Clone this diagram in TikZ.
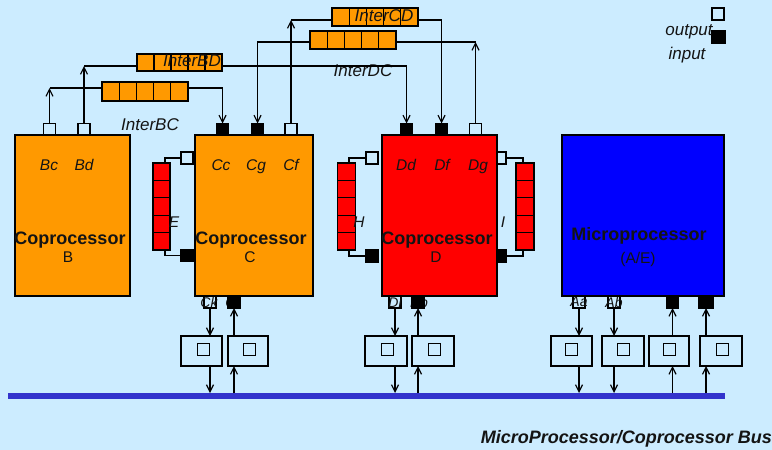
\documentclass[tikz,border=0pt]{standalone}
\usepackage{fontspec}
\setmainfont{Liberation Sans}
\usetikzlibrary{arrows.meta}
\definecolor{bg}{RGB}{204,236,255}
\definecolor{orng}{RGB}{255,153,0}
\definecolor{busblue}{RGB}{51,51,204}
\definecolor{txt}{RGB}{20,20,20}
\begin{document}
\begin{tikzpicture}[x=1pt,y=-1pt,
  every node/.style={inner sep=0pt, outer sep=0pt, text=txt},
  unitbox/.style={draw=black, line width=1.5pt, minimum width=#1},
  portout/.style={draw=black, fill=bg, line width=1.3pt, minimum width=12pt, minimum height=12pt},
  portin/.style={draw=black, fill=black, line width=1.3pt, minimum width=12pt, minimum height=12pt},
  qcell/.style={draw=black, line width=1.3pt},
  ifbox/.style={draw=black, fill=bg, line width=1.4pt, minimum height=30pt},
  ifsq/.style={draw=black, fill=bg, line width=1.4pt, minimum width=12pt, minimum height=12pt},
  ln/.style={draw=black, line width=1.4pt},
  arr/.style={ln, -{Straight Barb[length=7pt,width=7pt,line width=1.2pt]}},
  plab/.style={font=\fontsize{15.5}{15.5}\selectfont\itshape},
  tlab/.style={font=\fontsize{15.5}{15.5}\selectfont\itshape, anchor=base},
  ilab/.style={font=\fontsize{17}{17}\selectfont\itshape},
  slab/.style={font=\fontsize{14}{14}\selectfont\itshape},
  blab/.style={font=\fontsize{18}{18}\selectfont\bfseries},
  rlab/.style={font=\fontsize{15.5}{15.5}\selectfont}
]
\useasboundingbox (0,0) rectangle (772,450);
\fill[bg] (0,0) rectangle (772,450);

% ---- top ports
\node[portout] (pBc) at (49.5,129.5) {};
\node[portout] (pBd) at (84,129.5) {};
\node[portin]  (pCc) at (222.5,129.5) {};
\node[portin]  (pCg) at (257.5,129.5) {};
\node[portout] (pCf) at (291,129.5) {};
\node[portin]  (pDd) at (406.5,129.5) {};
\node[portin]  (pDf) at (441.5,129.5) {};
\node[portout] (pDg) at (475.5,129.5) {};

% ---- side ports
\node[portout] (pEo) at (187,158) {};
\node[portin]  (pEi) at (187,255.5) {};
\node[portout] (pHo) at (372,158) {};
\node[portin]  (pHi) at (372,256) {};
\node[portout] (pIo) at (500,158) {};
\node[portin]  (pIi) at (500,256) {};

% ---- bottom port labels (partly hidden)
\node[slab] (lCl) at (232,302) {Cl};
\node[slab] (lDb) at (419,302) {Db};

% ---- bottom ports
\node[portout] (pCk) at (210,302) {};
\node[portin, minimum width=13pt] (pCl) at (234,302) {};
\node[portout] (pDl) at (395,302) {};
\node[portin, minimum width=13pt] (pDb) at (418,302) {};
\node[portout] (pAa) at (579,302) {};
\node[portout] (pAb) at (614,302) {};
\node[portin] (pAc) at (672.5,302) {};
\node[portin, minimum width=14pt] (pAd) at (706,302) {};
\node[slab] (lCk) at (209,302) {Ck};
\node[slab] (lDl) at (395,302) {Dl};
\node[slab] (lAa) at (579,302) {Aa};
\node[slab] (lAb) at (614,302) {Ab};

% ---- main boxes
\node[unitbox=115pt, fill=orng, minimum height=161pt] (B) at (72.5,215.5) {};
\node[unitbox=118pt, fill=orng, minimum height=161pt] (C) at (254,215.5) {};
\node[unitbox=115pt, fill=red, minimum height=161pt] (D) at (439.5,215.5) {};
\node[unitbox=162pt, fill=blue, minimum height=161pt] (A) at (643,215.5) {};

% labels in boxes
\node[tlab] at (49,170) {Bc};
\node[tlab] at (84,170) {Bd};
\node[tlab] at (221,170) {Cc};
\node[tlab] at (256,170) {Cg};
\node[tlab] at (291,170) {Cf};
\node[tlab] at (406,170) {Dd};
\node[tlab] at (442,170) {Df};
\node[tlab] at (478,170) {Dg};
\node[blab] at (70,240) {Coprocessor};
\node[rlab] at (68,257) {B};
\node[blab] at (251,240) {Coprocessor};
\node[rlab] at (250,257) {C};
\node[blab] at (437,240) {Coprocessor};
\node[rlab] at (436,257) {D};
\node[blab] at (639,236) {Microprocessor};
\node[rlab] at (638,259) {(A/E)};

% ---- horizontal and vertical queues
\foreach \i in {1,...,5} {
  \node[qcell, fill=orng, minimum width=17.2pt, minimum height=19pt] (bc\i) at ({102+17.2*(\i-0.5)},91.5) {};
  \node[qcell, fill=orng, minimum width=17pt, minimum height=17pt] (bd\i) at ({137+17*(\i-0.5)},62.5) {};
  \node[qcell, fill=orng, minimum width=17.2pt, minimum height=18pt] (cd\i) at ({332+17.2*(\i-0.5)},17) {};
  \node[qcell, fill=orng, minimum width=17.2pt, minimum height=18pt] (dc\i) at ({310+17.2*(\i-0.5)},40) {};
  \node[qcell, fill=red, minimum width=17pt, minimum height=17.4pt] (e\i) at (161.5,{163+17.4*(\i-0.5)}) {};
  \node[qcell, fill=red, minimum width=18pt, minimum height=17.4pt] (h\i) at (346.5,{163+17.4*(\i-0.5)}) {};
  \node[qcell, fill=red, minimum width=18pt, minimum height=17.4pt] (i\i) at (525,{163+17.4*(\i-0.5)}) {};
}

% queue labels
\node[ilab] at (150,125) {InterBC};
\node[ilab] at (192,61) {InterBD};
\node[ilab] at (384,16) {InterCD};
\node[ilab] at (363,71) {InterDC};
\node[plab] at (174,222) {E};
\node[plab] at (359,222) {H};
\node[plab] at (503,222) {I};

% ---- top connectors
\coordinate (cBC1) at (49.5,88);
\coordinate (cBC2) at (222.5,88);
\draw[arr] (pBc.north) -- (cBC1);
\draw[ln] (cBC1) -- (cBC1 -| bc1.west);
\draw[arr] (cBC2 -| bc5.east) -- (cBC2) -- (pCc.north);

\coordinate (cBD1) at (84,66);
\coordinate (cBD2) at (406.5,66);
\draw[arr] (pBd.north) -- (cBD1);
\draw[ln] (cBD1) -- (cBD1 -| bd1.west);
\draw[arr] (cBD2 -| bd5.east) -- (cBD2) -- (pDd.north);

\coordinate (cCD1) at (291,20);
\coordinate (cCD2) at (441.5,20);
\draw[arr] (pCf.north) -- (cCD1);
\draw[ln] (cCD1) -- (cCD1 -| cd1.west);
\draw[arr] (cCD2 -| cd5.east) -- (cCD2) -- (pDf.north);

\coordinate (cDC1) at (475.5,42);
\coordinate (cDC2) at (257.5,42);
\draw[arr] (pDg.north) -- (cDC1);
\draw[ln] (cDC1) -- (cDC1 -| dc5.east);
\draw[arr] (cDC2 -| dc1.west) -- (cDC2) -- (pCg.north);

% ---- side connectors
\coordinate (cE1) at (165,158);
\coordinate (cE2) at (165,255.5);
\draw[ln] (e1.north -| cE1) -- (cE1) -- (pEo.west);
\draw[ln] (e5.south -| cE2) -- (cE2) -- (pEi.west);
\coordinate (cH1) at (349,158);
\coordinate (cH2) at (349,256);
\draw[ln] (h1.north -| cH1) -- (cH1) -- (pHo.west);
\draw[ln] (h5.south -| cH2) -- (cH2) -- (pHi.west);
\coordinate (cI1) at (523,158);
\coordinate (cI2) at (523,256);
\draw[ln] (i1.north -| cI1) -- (cI1) -- (pIo.east);
\draw[ln] (i5.south -| cI2) -- (cI2) -- (pIi.east);

% ---- interface boxes
\node[ifbox, minimum width=41pt] (b1) at (201.5,351) {};
\node[ifbox, minimum width=40pt] (b2) at (248,351) {};
\node[ifbox, minimum width=42pt] (b3) at (386,351) {};
\node[ifbox, minimum width=42pt] (b4) at (433,351) {};
\node[ifbox, minimum width=41pt] (b5) at (571.5,351) {};
\node[ifbox, minimum width=42pt] (b6) at (623,351) {};
\node[ifbox, minimum width=40pt] (b7) at (669,351) {};
\node[ifbox, minimum width=42pt] (b8) at (721,351) {};
\node[ifsq] (s1) at (203.5,349.5) {};
\node[ifsq] (s2) at (249.5,349.5) {};
\node[ifsq] (s3) at (387.5,349.5) {};
\node[ifsq] (s4) at (434.5,349.5) {};
\node[ifsq] (s5) at (571.5,349.5) {};
\node[ifsq] (s6) at (623.5,349.5) {};
\node[ifsq] (s7) at (669.5,349.5) {};
\node[ifsq] (s8) at (722.5,349.5) {};

% ---- bus
\coordinate (busL) at (8,396);
\coordinate (busR) at (725,396);
\coordinate (busT) at (8,393);
\draw[busblue, line width=6pt] (busL) -- (busR);

% ---- bottom connectors
\draw[arr] (pCk.south) -- (pCk.south |- b1.north);
\draw[arr] (pCk.south |- b1.south) -- (pCk.south |- busT);
\draw[arr] (pCl.south |- busT) -- (pCl.south |- b2.south);
\draw[arr] (pCl.south |- b2.north) -- (pCl.south);
\draw[arr] (pDl.south) -- (pDl.south |- b3.north);
\draw[arr] (pDl.south |- b3.south) -- (pDl.south |- busT);
\draw[arr] (pDb.south |- busT) -- (pDb.south |- b4.south);
\draw[arr] (pDb.south |- b4.north) -- (pDb.south);
\draw[arr] (pAa.south) -- (pAa.south |- b5.north);
\draw[arr] (pAa.south |- b5.south) -- (pAa.south |- busT);
\draw[arr] (pAb.south) -- (pAb.south |- b6.north);
\draw[arr] (pAb.south |- b6.south) -- (pAb.south |- busT);
\draw[arr] (pAc.south |- busT) -- (pAc.south |- b7.south);
\draw[arr] (pAc.south |- b7.north) -- (pAc.south);
\draw[arr] (pAd.south |- busT) -- (pAd.south |- b8.south);
\draw[arr] (pAd.south |- b8.north) -- (pAd.south);

% ---- legend
\node[portout] (lgo) at (718,14) {};
\node[portin, minimum width=13pt, minimum height=13pt] (lgi) at (718.5,37) {};
\node[ilab] (lgot) at (689,32) {output};
\node[ilab] (lgit) at (687,55) {input};

% ---- bus title
\node[font=\fontsize{18}{18}\selectfont\bfseries\itshape, anchor=east] (title) at (772,439) {MicroProcessor/Coprocessor Bus};
\end{tikzpicture}
\end{document}
